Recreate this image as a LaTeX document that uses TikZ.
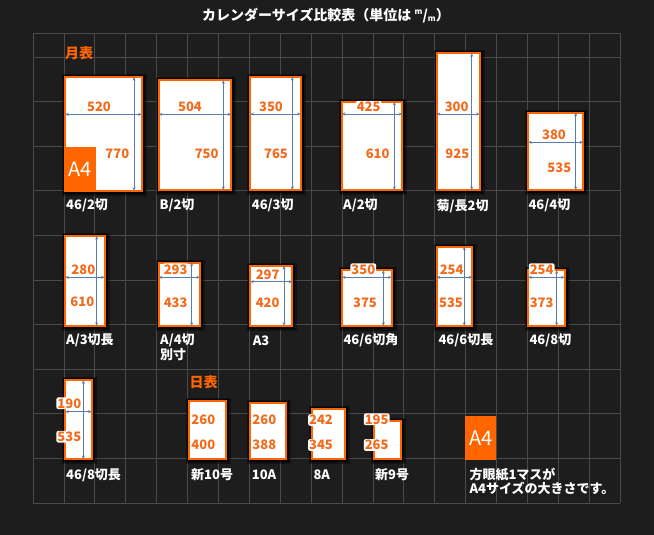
\documentclass[tikz,border=0pt]{standalone}
\usepackage{fontspec}
\setmainfont{Noto Sans CJK JP}
\usetikzlibrary{arrows.meta}
\definecolor{bgc}{HTML}{1D1D1D}
\definecolor{gridc}{HTML}{4A4A4A}
\definecolor{orng}{HTML}{FF6600}
\definecolor{numc}{HTML}{F26B1C}
\definecolor{dimc}{HTML}{5A7BAE}
\tikzset{
 gridl/.style={draw=gridc, line width=0.8pt},
 calrect/.style={draw=orng, line width=2pt, fill=white, inner sep=0pt, outer sep=0pt, anchor=north west},
 dimline/.style={draw=dimc, line width=0.8pt, {Stealth[length=3.5pt,width=3pt]}-{Stealth[length=3.5pt,width=3pt]}},
 num/.style={text=numc, fill=white, inner sep=1pt, rounded corners=2pt, font=\fontsize{13}{13}\selectfont\bfseries},
 lab/.style={text=white, inner sep=0pt, anchor=west, font=\fontsize{13}{13.5}\selectfont\bfseries},
 head/.style={text=orng, inner sep=0pt, anchor=west, font=\fontsize{14}{14}\selectfont\bfseries},
 a4box/.style={fill=orng, text=white, inner sep=0pt, anchor=north west, font=\fontsize{20}{20}\selectfont},
 titlestyle/.style={text=white, inner sep=0pt, font=\fontsize{14}{14}\selectfont\bfseries},
}
% name, x0, y0(top), x1, y1(bottom) : outer edges in px
\newcommand\calbox[5]{%
 \fill[black, opacity=0.4] ({#2-2},{#3-2}) rectangle ({#4+4},{#5+4});
 \fill[black, opacity=0.75] ({#2-1},{#3-1}) rectangle ({#4+2},{#5+2});
 \node[calrect, minimum width={#4-#2-2}, minimum height={#5-#3-2}] (#1) at ({#2+1},{#3+1}) {};
}
\newcommand\mmunit{\raisebox{.42em}{\fontsize{8}{8}\selectfont m}/\raisebox{-.08em}{\fontsize{8}{8}\selectfont m}}
\begin{document}
\begin{tikzpicture}[x=1pt,y=-1pt]
\useasboundingbox (0,0) rectangle (654,535);
\fill[bgc] (0,0) rectangle (654,535);
% grid
\foreach \i in {0,...,19} \draw[gridl] ({33+\i*30.9},33) -- ({33+\i*30.9},503);
\draw[gridl] (33,33) -- (620.1,33);
\foreach \j in {0,...,10} \draw[gridl] (33,{57+\j*44.6}) -- (620.1,{57+\j*44.6});
% title
\node[titlestyle] (title) at (326,15.5) {カレンダーサイズ比較表（単位は \mmunit）};
\node[head] (gekkan) at (65,53.5) {月表};
\node[head] (nikkan) at (189.3,381.7) {日表};
% ---- row 1
\calbox{b1}{64.3}{76}{142.7}{191.7}
\node[a4box, minimum width=31.4pt, minimum height=45pt] (a4a) at (64.3,146.7) {A4};
\calbox{b2}{157.7}{79.3}{232.3}{191}
\calbox{b3}{249.3}{76}{301.7}{191}
\calbox{b4}{341}{100.7}{403.3}{191}
\calbox{b5}{435.7}{52.3}{480.7}{191}
\calbox{b6}{527.3}{111.7}{584.3}{191}
\node[num] (n1w) at (99,106.7) {520};   \node[num] (n1h) at (117.3,153.3) {770};
\node[num] (n2w) at (190,106.7) {504};  \node[num] (n2h) at (206.7,153.3) {750};
\node[num] (n3w) at (271,106.7) {350};  \node[num] (n3h) at (276,153.3) {765};
\node[num] (n4w) at (368.7,106.7) {425};\node[num] (n4h) at (377.7,153.3) {610};
\node[num] (n5w) at (456.7,106.7) {300};\node[num] (n5h) at (457.3,153.3) {925};
\node[num] (n6w) at (554,135) {380};    \node[num] (n6h) at (559.3,167.7) {535};
\draw[dimline] (b1.west |- 0,114.3) -- (b1.east |- 0,114.3);
\draw[dimline] (134,0 |- b1.north) -- (134,0 |- b1.south);
\draw[dimline] (b2.west |- 0,114.3) -- (b2.east |- 0,114.3);
\draw[dimline] (223.3,0 |- b2.north) -- (223.3,0 |- b2.south);
\draw[dimline] (b3.west |- 0,114) -- (b3.east |- 0,114);
\draw[dimline] (292.3,0 |- b3.north) -- (292.3,0 |- b3.south);
\draw[dimline] (b4.west |- 0,114) -- (b4.east |- 0,114);
\draw[dimline] (394.3,0 |- b4.north) -- (394.3,0 |- b4.south);
\draw[dimline] (b5.west |- 0,114) -- (b5.east |- 0,114);
\draw[dimline] (471.7,0 |- b5.north) -- (471.7,0 |- b5.south);
\draw[dimline] (b6.west |- 0,142.3) -- (b6.east |- 0,142.3);
\draw[dimline] (575.7,0 |- b6.north) -- (575.7,0 |- b6.south);
\node[lab] (l1) at (66,205.7) {46/2切};
\node[lab] (l2) at (159.3,205.7) {B/2切};
\node[lab] (l3) at (251.7,205.7) {46/3切};
\node[lab] (l4) at (343,205.7) {A/2切};
\node[lab] (l5) at (436.5,205.7) {菊/長2切};
\node[lab] (l6) at (528.3,205.7) {46/4切};
% ---- row 2
\calbox{b7}{64.3}{235}{105.7}{326.7}
\calbox{b8}{157.7}{261.7}{201}{326.7}
\calbox{b9}{249.3}{265}{293.3}{326.7}
\calbox{b10}{341}{269.3}{392.7}{326.7}
\calbox{b11}{435.7}{245.7}{473.3}{326.7}
\calbox{b12}{527.3}{269.3}{565.7}{326.7}
\node[num] (n7w) at (83.3,270) {280};    \node[num] (n7h) at (82.3,301.7) {610};
\node[num] (n8w) at (175.7,269.3) {293};  \node[num] (n8h) at (175.7,302.7) {433};
\node[num] (n9w) at (267.7,274.3) {297};  \node[num] (n9h) at (267.7,302.7) {420};
\node[num] (n10w) at (363.3,269.3) {350}; \node[num] (n10h) at (365,302.7) {375};
\node[num] (n11w) at (451.7,269.3) {254}; \node[num] (n11h) at (451,302.7) {535};
\node[num] (n12w) at (541.7,269.3) {254}; \node[num] (n12h) at (541.7,302.7) {373};
\draw[dimline] (b7.west |- 0,277.3) -- (b7.east |- 0,277.3);
\draw[dimline] (96.7,0 |- b7.north) -- (96.7,0 |- b7.south);
\draw[dimline] (b8.west |- 0,277.3) -- (b8.east |- 0,277.3);
\draw[dimline] (191.7,0 |- b8.north) -- (191.7,0 |- b8.south);
\draw[dimline] (b9.west |- 0,281.7) -- (b9.east |- 0,281.7);
\draw[dimline] (284,0 |- b9.north) -- (284,0 |- b9.south);
\draw[dimline] (b10.west |- 0,277.3) -- (b10.east |- 0,277.3);
\draw[dimline] (383.3,0 |- b10.north) -- (383.3,0 |- b10.south);
\draw[dimline] (b11.west |- 0,277.3) -- (b11.east |- 0,277.3);
\draw[dimline] (464.3,0 |- b11.north) -- (464.3,0 |- b11.south);
\draw[dimline] (b12.west |- 0,277.3) -- (b12.east |- 0,277.3);
\draw[dimline] (556.7,0 |- b12.north) -- (556.7,0 |- b12.south);
\node[lab] (l7) at (66,340.5) {A/3切長};
\node[lab] (l8) at (160,340.5) {A/4切};
\node[lab] (l8b) at (160,354.5) {別寸};
\node[lab] (l9) at (252.7,340.5) {A3};
\node[lab] (l10) at (343.3,340.5) {46/6切角};
\node[lab] (l11) at (438.3,340.5) {46/6切長};
\node[lab] (l12) at (529.3,340.5) {46/8切};
% ---- row 3
\calbox{b13}{64.3}{379.3}{92.7}{460}
\calbox{b14}{188.3}{400}{226.7}{460}
\calbox{b15}{249}{402.3}{287.3}{460}
\calbox{b16}{311}{408.3}{346}{460}
\calbox{b17}{373.3}{420}{401.7}{460}
\node[num] (n13w) at (69.3,403.3) {190};  \node[num] (n13h) at (69.3,436.7) {535};
\node[num] (n14w) at (203.3,419.3) {260}; \node[num] (n14h) at (203.3,445) {400};
\node[num] (n15w) at (264.3,419.3) {260}; \node[num] (n15h) at (264.3,445) {388};
\node[num] (n16w) at (321,420) {242};     \node[num] (n16h) at (321,445) {345};
\node[num] (n17w) at (376.7,419.3) {195}; \node[num] (n17h) at (376.7,445) {265};
\draw[dimline] (b13.west |- 0,411.7) -- (b13.east |- 0,411.7);
\draw[dimline] (83.3,0 |- b13.north) -- (83.3,0 |- b13.south);
\node[lab] (l13) at (66,475) {46/8切長};
\node[lab] (l14) at (191,475) {新10号};
\node[lab] (l15) at (251.7,475) {10A};
\node[lab] (l16) at (313.3,475) {8A};
\node[lab] (l17) at (375,475) {新9号};
% legend
\node[a4box, minimum width=31pt, minimum height=44pt] (a4b) at (465,416) {A4};
\node[lab] (note1) at (469.3,474.5) {方眼紙1マスが};
\node[lab] (note2) at (469.3,488.5) {A4サイズの大きさです。};
\end{tikzpicture}
\end{document}
